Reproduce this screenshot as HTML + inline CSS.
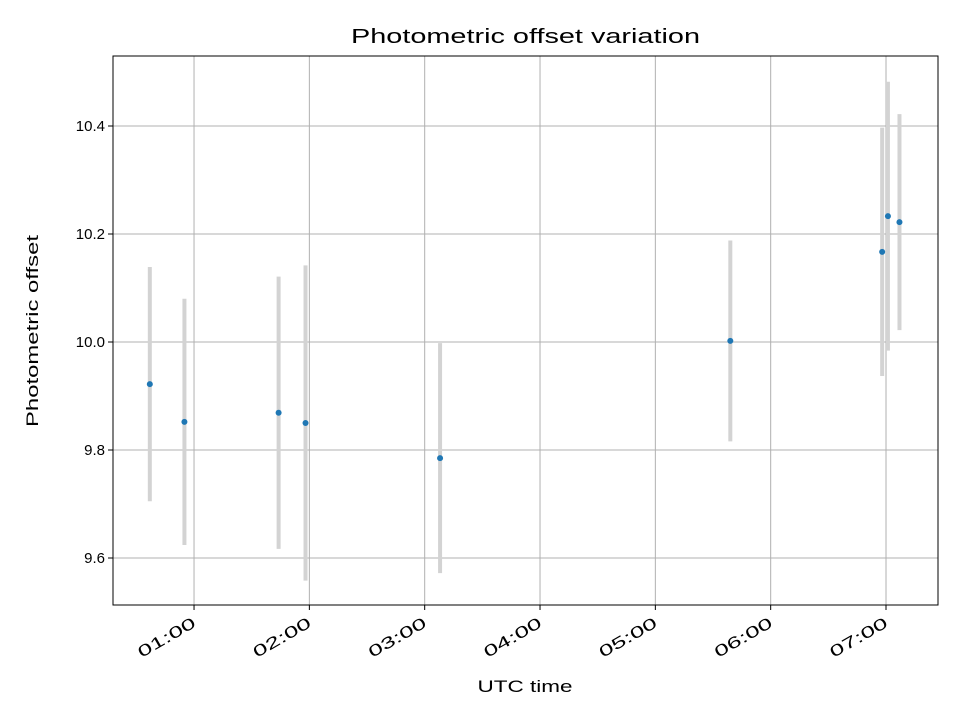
<!DOCTYPE html>
<html><head><meta charset="utf-8"><style>body{margin:0;background:#fff}svg{display:block;font-family:"Liberation Sans","DejaVu Sans",sans-serif}</style></head>
<body>
<svg id="chart" width="960" height="720"></svg>
<script>
const times = ["00:37","00:55","01:44","01:58","03:08","05:39","06:58","07:01","07:07"];
const offsets = [9.922,9.852,9.869,9.850,9.785,10.002,10.167,10.233,10.222];
const errors = [0.217,0.228,0.252,0.292,0.213,0.186,0.230,0.249,0.200];
const xTicks = ["01:00","02:00","03:00","04:00","05:00","06:00","07:00"];
const yTicks = [9.6,9.8,10.0,10.2,10.4];

const NS="http://www.w3.org/2000/svg", svg=document.getElementById('chart');
const L=113,R=938,T=56,B=605;
function hrs(s){const p=s.split(':');return +p[0]+p[1]/60;}
function xs(h){return 78.7+h*115.33;}
function ys(v){return 342-(v-10)*540;}
function mk(tag,a,parent){const e=document.createElementNS(NS,tag);for(const k in a)e.setAttribute(k,a[k]);(parent||svg).appendChild(e);return e;}

const grid=mk('g',{});


xTicks.forEach(t=>{const x=xs(hrs(t));
  mk('line',{x1:x,x2:x,y1:T,y2:B,stroke:'#b0b0b0','stroke-width':1},grid);
  mk('line',{x1:x,x2:x,y1:B,y2:B+5,stroke:'#000'});
  const ax=x+3, ay=B+21;
  const tx=mk('text',{x:ax,y:ay,'font-size':'16','text-anchor':'end',textLength:'64',lengthAdjust:'spacingAndGlyphs',transform:`rotate(-30 ${ax} ${ay})`});
  
  
  tx.textContent=t;});
yTicks.forEach(v=>{const y=ys(v);
  mk('line',{x1:L,x2:R,y1:y,y2:y,stroke:'#b0b0b0','stroke-width':1},grid);
  mk('line',{x1:L-5,x2:L,y1:y,y2:y,stroke:'#000'});
  const tx=mk('text',{x:L-8,y:y+5,'font-size':'15','text-anchor':'end'});
  
  
  tx.textContent=v.toFixed(1);});

const series=mk('g',{});


times.forEach((t,i)=>{const x=xs(hrs(t));
  const eb=mk('line',{x1:x,x2:x,y1:ys(offsets[i]+errors[i]),y2:ys(offsets[i]-errors[i]),stroke:'#d3d3d3','stroke-width':4},series);
  
  });
times.forEach((t,i)=>{
  const c=mk('circle',{cx:xs(hrs(t)),cy:ys(offsets[i]),r:3,fill:'#1f77b4'},series);
  
  });

const frame=mk('rect',{x:L,y:T,width:R-L,height:B-T,fill:'none',stroke:'#000','stroke-width':1});


const title=mk('text',{x:(L+R)/2,y:43,'font-size':'20','text-anchor':'middle',textLength:'349',lengthAdjust:'spacingAndGlyphs'});


title.textContent='Photometric offset variation';
const xl=mk('text',{x:525,y:692,'font-size':'17','text-anchor':'middle',textLength:'95',lengthAdjust:'spacingAndGlyphs'});


xl.textContent='UTC time';
const yl=mk('text',{x:38,y:331,'font-size':'17','text-anchor':'middle',textLength:'192',lengthAdjust:'spacingAndGlyphs',transform:`rotate(-90 38 331)`});


yl.textContent='Photometric offset';
</script>
</body></html>
